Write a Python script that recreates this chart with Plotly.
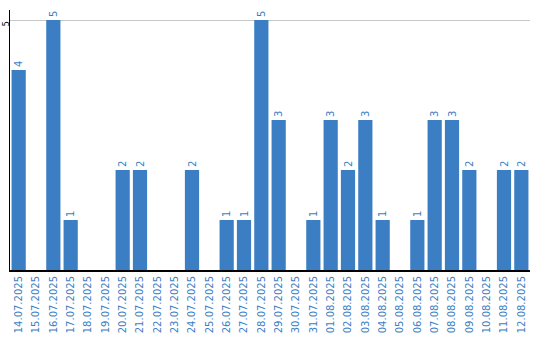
import plotly.graph_objects as go

dates = ["14.07.2025","15.07.2025","16.07.2025","17.07.2025","18.07.2025","19.07.2025",
         "20.07.2025","21.07.2025","22.07.2025","23.07.2025","24.07.2025","25.07.2025",
         "26.07.2025","27.07.2025","28.07.2025","29.07.2025","30.07.2025","31.07.2025",
         "01.08.2025","02.08.2025","03.08.2025","04.08.2025","05.08.2025","06.08.2025",
         "07.08.2025","08.08.2025","09.08.2025","10.08.2025","11.08.2025","12.08.2025"]
values = [4,0,5,1,0,0,2,2,0,0,2,0,1,1,5,3,0,1,3,2,3,1,0,1,3,3,2,0,2,2]
labels = [str(v) if v else "" for v in values]

blue = "#3b7ec4"
fig = go.Figure(go.Bar(
    x=dates, y=values, text=labels, textposition="outside", textangle=-90,
    marker=dict(color=blue, line=dict(width=0)),
    textfont=dict(color=blue, size=10, family="DejaVu Sans"),
    cliponaxis=False,
))
fig.update_layout(
    width=540, height=340, margin=dict(l=10, r=10, t=10, b=70),
    paper_bgcolor="white", plot_bgcolor="white", bargap=0.18, showlegend=False,
    font=dict(family="DejaVu Sans", size=10),
    xaxis=dict(type="category", tickangle=-90, tickfont=dict(color=blue, size=10),
               showline=True, linecolor="black", linewidth=2, ticks="", showgrid=False,
               automargin=False),
    yaxis=dict(range=[0, 5.2], tickvals=[5], tickangle=-90, showgrid=True,
               gridcolor="#c8c8c8", gridwidth=1, showline=True, linecolor="black",
               linewidth=1, ticks="", tickfont=dict(color="black", size=8),
               zeroline=False, ticklabelstandoff=-3, ticklabelshift=5, automargin=False),
)
fig.write_html("out.html")
